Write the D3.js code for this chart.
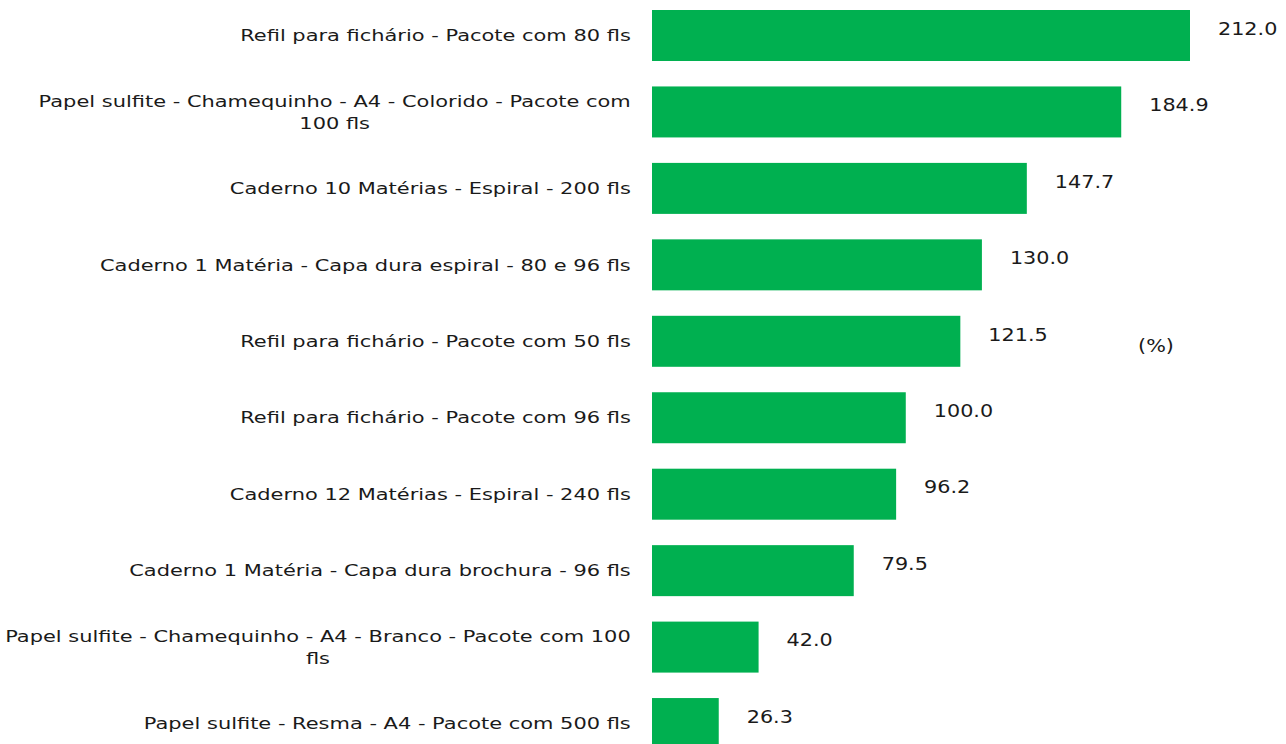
<!DOCTYPE html>
<html><head><meta charset="utf-8">
<script src="https://cdn.jsdelivr.net/npm/d3@7"></script>
<style>body{margin:0;background:#fff}</style>
</head><body><svg id="c" width="1286" height="744"></svg>
<script>
const categories = [
  ["Refil para fichário - Pacote com 80 fls"],
  ["Papel sulfite - Chamequinho - A4 - Colorido - Pacote com", "100 fls"],
  ["Caderno 10 Matérias - Espiral - 200 fls"],
  ["Caderno 1 Matéria - Capa dura espiral - 80 e 96 fls"],
  ["Refil para fichário - Pacote com 50 fls"],
  ["Refil para fichário - Pacote com 96 fls "],
  ["Caderno 12 Matérias - Espiral - 240 fls"],
  ["Caderno 1 Matéria - Capa dura brochura - 96 fls"],
  ["Papel sulfite - Chamequinho - A4 - Branco - Pacote com 100", "fls"],
  ["Papel sulfite - Resma - A4 - Pacote com 500 fls"]
];
const values = [212.0, 184.9, 147.7, 130.0, 121.5, 100.0, 96.2, 79.5, 42.0, 26.3];
const unitLabel = "(%)";

const FONT = "'DejaVu Sans', sans-serif";
const SX_VAL = 1.22;   // horizontal stretch to mimic the wide original typeface
const SX_LAB = 1.27;
const svg = d3.select("#c");
const ids = d3.range(values.length);
const x = d3.scaleLinear().domain([0, 212]).range([652, 1190]);
const step = 76.45;
const y = d3.scaleBand().domain(ids)
  .range([10 - 0.1665 * step, 10 - 0.1665 * step + values.length * step])
  .paddingInner(0.333).paddingOuter(0.1665);

function stretch(sel, ax, sx) {
  sel.attr("transform", `translate(${ax},0) scale(${sx},1) translate(${-ax},0)`);
}

svg.selectAll("rect.bar").data(ids).join("rect")
  .attr("class", "bar")
  .attr("x", x(0)).attr("y", i => y(i))
  .attr("width", i => x(values[i]) - x(0))
  .attr("height", y.bandwidth())
  .attr("fill", "#00B050");

svg.selectAll("text.val").data(ids).join("text")
  .attr("class", "val")
  .attr("x", i => x(values[i]) + 28)
  .attr("y", i => y(i) + y.bandwidth() / 2 - 7)
  .attr("dominant-baseline", "central")
  .attr("font-family", FONT).attr("font-size", 17).attr("fill", "#1a1a1a")
  .text(i => values[i].toFixed(1))
  .each(function(i) { stretch(d3.select(this), x(values[i]) + 28, SX_VAL); });

const labelRight = 631, lineH = 22;
const g = svg.selectAll("g.lab").data(ids).join("g").attr("class", "lab");
g.each(function(i) {
  const lines = categories[i];
  const grp = d3.select(this);
  const cy = y(i) + y.bandwidth() / 2;
  const ts = lines.map((l, k) => grp.append("text")
    .attr("font-family", FONT).attr("font-size", 16.5).attr("fill", "#1a1a1a")
    .attr("dominant-baseline", "central")
    .attr("y", cy + (k - (lines.length - 1) / 2) * lineH)
    .text(l.trim()));
  const w = d3.max(ts, t => t.node().getComputedTextLength()) * SX_LAB;
  const cx = labelRight - w / 2;
  ts.forEach(t => { t.attr("text-anchor", "middle").attr("x", cx); stretch(t, cx, SX_LAB); });
});

svg.append("text").attr("x", 1156).attr("y", 346)
  .attr("text-anchor", "middle").attr("dominant-baseline", "central")
  .attr("font-family", FONT).attr("font-size", 17).attr("fill", "#1a1a1a")
  .text(unitLabel)
  .call(s => stretch(s, 1156, SX_VAL));
</script></body></html>
